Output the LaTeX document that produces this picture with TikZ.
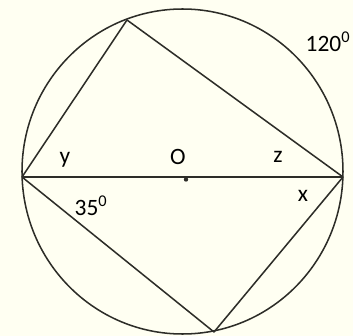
\documentclass[tikz,border=0pt]{standalone}
\usepackage{fontspec}
\setmainfont{Carlito}
\usepackage{xcolor}
\definecolor{paperbg}{RGB}{255,255,242}
\definecolor{chordgray}{RGB}{45,45,40}
\usepackage{tikz}
\usetikzlibrary{positioning}
\newcommand{\degsup}{\textsuperscript{0}}

\begin{document}
\begin{tikzpicture}[x=0.03cm, y=-0.03cm, font=\fontsize{20}{22}\selectfont,
    chord/.style={draw=chordgray, line width=1.3pt, line join=round},
    anglelbl/.style={inner sep=0pt, text=black}]
  \fill[paperbg] (0,0) rectangle (353,336);
  \useasboundingbox (0,0) rectangle (353,336);
  % points on the circle
  \coordinate (centre) at (182.5,171.5);
  \coordinate (left) at (22,177);
  \coordinate (right) at (343,177);
  \coordinate (top) at (127,20);
  \coordinate (bottom) at (214,332);
  \draw[chord] (centre) ellipse [x radius=160.5, y radius=162.5];
  \draw[chord] (left) -- (right);
  \draw[chord] (left) -- (top) -- (right);
  \draw[chord] (left) -- (bottom) -- (right);
  \fill[chordgray] (186,179.5) circle [radius=2.2];
  % labels
  \node[anglelbl] (arc) at (328,42) {120\degsup};
  \node[anglelbl] (angy) at (65,160) {y};
  \node[anglelbl] (labO) at (178,157) {O};
  \node[anglelbl] (angz) at (278,157) {z};
  \node[anglelbl] (angx) at (303,196) {x};
  \node[anglelbl] (ang35) at (91,206) {35\degsup};
\end{tikzpicture}
\end{document}
